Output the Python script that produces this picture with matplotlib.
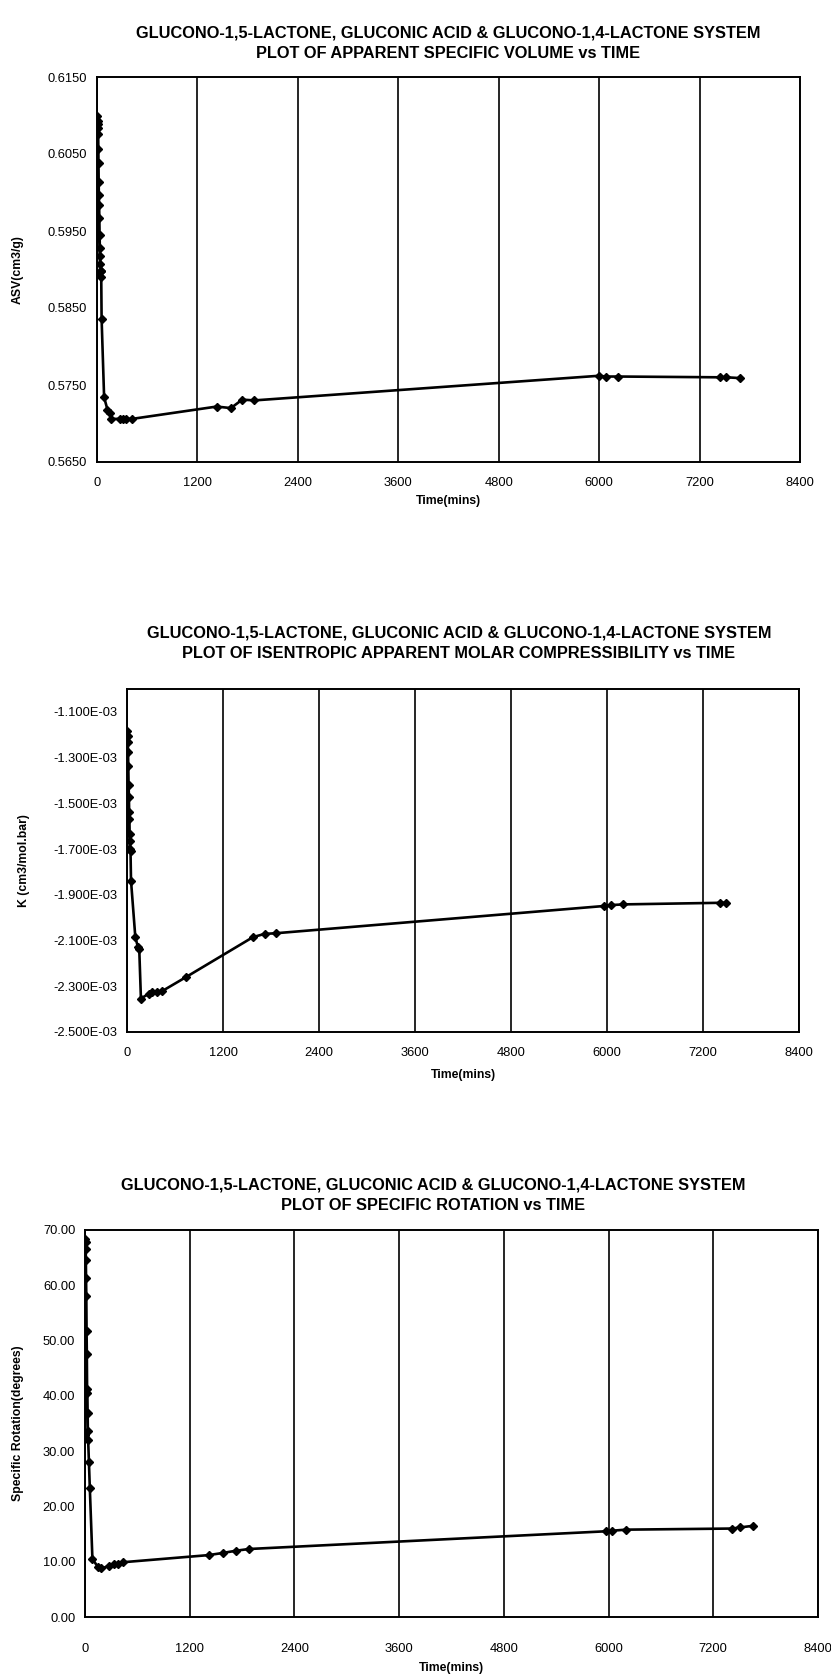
import matplotlib
matplotlib.use("Agg")
import matplotlib.pyplot as plt
from matplotlib.ticker import FormatStrFormatter, FuncFormatter

# ---- data ----
asv_time = [0, 5, 8, 10, 12, 14, 16, 18, 20, 22, 25, 28, 31, 34, 37, 40, 43, 46, 50, 55,
            85, 125, 155, 170, 270, 310, 350, 420,
            1430, 1600, 1735, 1880, 6000, 6080, 6230, 7440, 7520, 7680]
asv_value = [0.5895, 0.6100, 0.6093, 0.6089, 0.6084, 0.6076, 0.6057, 0.6038, 0.6014, 0.5997,
             0.5984, 0.5967, 0.5945, 0.5928, 0.5917, 0.5907, 0.5898, 0.5890, 0.5898, 0.5836,
             0.5734, 0.5718, 0.5714, 0.5706, 0.5706, 0.5706, 0.5706, 0.5706,
             0.5722, 0.5720, 0.5731, 0.5730, 0.5762, 0.5761, 0.5761, 0.5760, 0.5760, 0.5759]

k_time = [0, 4, 7, 10, 13, 16, 20, 24, 27, 30, 33, 36, 40, 44, 50,
          104, 137, 153, 174, 269, 310, 373, 435, 737,
          1575, 1720, 1865, 5962, 6048, 6200, 7412, 7488]
k_value = [-1.700e-3, -1.183e-3, -1.205e-3, -1.230e-3, -1.277e-3, -1.335e-3, -1.422e-3,
           -1.474e-3, -1.539e-3, -1.568e-3, -1.634e-3, -1.663e-3, -1.699e-3, -1.710e-3,
           -1.838e-3, -2.085e-3, -2.129e-3, -2.136e-3, -2.354e-3, -2.333e-3, -2.325e-3,
           -2.325e-3, -2.322e-3, -2.260e-3, -2.085e-3, -2.071e-3, -2.068e-3, -1.949e-3,
           -1.945e-3, -1.942e-3, -1.935e-3, -1.935e-3]

rot_time = [0, 4, 6, 8, 10, 12, 15, 18, 21, 24, 27, 30, 33, 36, 45, 55,
            85, 150, 180, 280, 335, 375, 430,
            1420, 1585, 1735, 1880, 5965, 6035, 6200, 7420, 7505, 7660]
rot_value = [33.0, 68.3, 67.8, 66.6, 64.5, 61.4, 58.1, 51.8, 47.6, 41.3, 40.5, 36.9, 33.6,
             32.1, 28.0, 23.4, 10.5, 9.0, 8.8, 9.2, 9.5, 9.6, 9.9,
             11.2, 11.6, 12.0, 12.3, 15.5, 15.6, 15.8, 16.0, 16.2, 16.5]

x_ticks = [0, 1200, 2400, 3600, 4800, 6000, 7200, 8400]

title_top = "GLUCONO-1,5-LACTONE, GLUCONIC ACID & GLUCONO-1,4-LACTONE SYSTEM"
titles = ["PLOT OF APPARENT SPECIFIC VOLUME vs TIME",
          "PLOT OF ISENTROPIC APPARENT MOLAR COMPRESSIBILITY vs TIME",
          "PLOT OF SPECIFIC ROTATION vs TIME"]
y_labels = ["ASV(cm3/g)", "K (cm3/mol.bar)", "Specific Rotation(degrees)"]

# ---- layout ----
W, H = 831, 1678
fig = plt.figure(figsize=(W / 100, H / 100), dpi=100)
fig.patch.set_facecolor("white")

title_font = ["Liberation Sans Narrow", "Liberation Sans", "DejaVu Sans"]
body_font = ["Liberation Sans", "DejaVu Sans"]


def px_rect(l, t, r, b):
    return [l / W, 1 - b / H, (r - l) / W, (b - t) / H]


def draw_panel(box, t, y, ylim, yticks, yfmt, ylabel, title, title_x, title_y,
               ylabel_x, tick_pad, xlabel_y):
    ax = fig.add_axes(px_rect(*box))
    ax.plot(t, y, color="black", lw=1.9, marker="D", ms=3.8, mfc="black", mec="black")
    ax.set_xlim(0, 8400)
    ax.set_ylim(*ylim)
    ax.set_xticks(x_ticks)
    ax.set_yticks(yticks)
    ax.yaxis.set_major_formatter(yfmt)
    ax.xaxis.grid(True, color="black", lw=1.2)
    ax.set_axisbelow(True)
    for s in ax.spines.values():
        s.set_linewidth(1.4)
    ax.tick_params(axis="both", length=0, labelsize=9.3)
    ax.tick_params(axis="x", pad=tick_pad)
    ax.tick_params(axis="y", pad=7)
    for lab in ax.get_xticklabels() + ax.get_yticklabels():
        lab.set_family(body_font)

    l, tp, r, b = box
    fig.text(title_x / W, 1 - title_y / H, title_top, ha="center", va="center",
             fontsize=11.8, fontweight="bold", family=title_font)
    fig.text(title_x / W, 1 - (title_y + 20) / H, title, ha="center", va="center",
             fontsize=11.8, fontweight="bold", family=title_font)
    fig.text(ylabel_x / W, 1 - ((tp + b) / 2) / H, ylabel, rotation=90, ha="center",
             va="center", fontsize=8.8, fontweight="bold", family=body_font)
    fig.text(((l + r) / 2) / W, 1 - xlabel_y / H, "Time(mins)", ha="center",
             va="center", fontsize=8.8, fontweight="bold", family=body_font)
    return ax


draw_panel((97, 77, 800, 462), asv_time, asv_value, (0.5650, 0.6150),
           [0.5650, 0.5750, 0.5850, 0.5950, 0.6050, 0.6150],
           FormatStrFormatter("%.4f"), y_labels[0], titles[0], 448, 33, 18, 11, 501)

draw_panel((127, 689, 799, 1032), k_time, k_value, (-2.5e-3, -1.0e-3),
           [-2.5e-3, -2.3e-3, -2.1e-3, -1.9e-3, -1.7e-3, -1.5e-3, -1.3e-3, -1.1e-3],
           FuncFormatter(lambda v, p: "%.3fE-03" % (v * 1e3)),
           y_labels[1], titles[1], 459, 633, 24, 11, 1075)

draw_panel((85, 1230, 818, 1617), rot_time, rot_value, (0, 70),
           [0, 10, 20, 30, 40, 50, 60, 70],
           FormatStrFormatter("%.2f"), y_labels[2], titles[2], 433, 1185, 18, 19, 1668)

fig.savefig("out.png", dpi=100, facecolor="white")
